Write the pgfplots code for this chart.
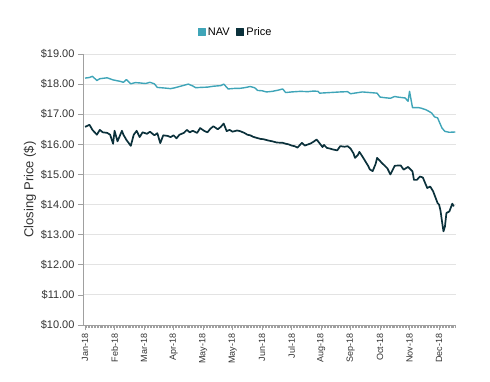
\documentclass[border=0pt]{standalone}
\usepackage{fontspec}
\setmainfont{Liberation Sans}
\usepackage{pgfplots}
\pgfplotsset{compat=1.18}
\definecolor{navc}{HTML}{3FA5B8}
\definecolor{pricec}{HTML}{0B313B}
\definecolor{gridc}{HTML}{E3E3E3}
\definecolor{axc}{HTML}{A0A0A0}
\definecolor{txt}{HTML}{333333}
\begin{document}
\begin{tikzpicture}[x=1pt,y=1pt]
\path[use as bounding box] (0,0) rectangle (490,381);
\begin{axis}[
  at={(83pt,56pt)}, anchor=south west,
  scale only axis, width=373pt, height=271pt,
  xmin=-1.4, xmax=251.5, ymin=10, ymax=19,
  axis lines=left,
  axis line style={draw=axc, line width=0.8pt, -},
  tick align=outside,
  major tick length=5pt, minor tick length=3pt,
  every tick/.style={draw=axc, line width=0.6pt},
  xtick={0,20,...,240},
  minor xtick={0,1,...,251},
  xticklabels={Jan-18,Feb-18,Mar-18,Apr-18,May-18,May-18,Jun-18,Jul-18,Aug-18,Sep-18,Oct-18,Nov-18,Dec-18},
  xticklabel style={rotate=90, anchor=east, font=\fontsize{9}{9}\selectfont, text=txt},
  ytick={10,11,...,19},
  /pgf/number format/assume math mode=true,
  yticklabel={\$\pgfmathprintnumber[fixed,fixed zerofill,precision=2]{\tick}},
  yticklabel style={font=\fontsize{11}{11}\selectfont, text=txt},
  ymajorgrids, grid style={draw=gridc, line width=0.8pt},
  ylabel={Closing Price (\$)},
  ylabel style={at={(axis description cs:-0.142,0.5)}, anchor=center, font=\fontsize{13}{13}\selectfont, text=txt},
  legend style={at={(axis description cs:0.409,1.081)}, anchor=center, draw=none, fill=none,
    legend columns=2, font=\fontsize{11}{13}\selectfont, text=black,
    /tikz/every even column/.append style={column sep=4pt}},
  legend image code/.code={\fill (0pt,-3.5pt) rectangle (7pt,3.5pt);},
]
\addplot[color=navc, line width=1.4pt, line join=round] coordinates {
(0,18.20)(3,18.22)(5,18.26)(8,18.12)(10,18.18)(15,18.21)(19,18.14)(24,18.09)(26,18.06)(28,18.15)
(31,18.01)(34,18.05)(37,18.04)(41,18.02)(44,18.06)(47,18.01)(49,17.89)(54,17.87)(58,17.85)(61,17.88)
(64,17.92)(70,18.00)(73,17.94)(75,17.88)(78,17.89)(83,17.90)(87,17.93)(92,17.95)(94,18.00)(95,17.95)
(97,17.84)(102,17.86)(105,17.86)(108,17.88)(112,17.92)(115,17.88)(117,17.79)(120,17.78)(123,17.74)(127,17.76)
(131,17.80)(134,17.84)(136,17.72)(140,17.74)(146,17.76)(151,17.75)(155,17.77)(158,17.76)(159,17.70)(166,17.72)
(173,17.74)(178,17.75)(180,17.68)(184,17.71)(188,17.74)(193,17.72)(198,17.70)(200,17.57)(203,17.55)(207,17.53)
(210,17.59)(212,17.57)(217,17.54)(219,17.43)(220,17.76)(222,17.22)(226,17.22)(228,17.20)(231,17.15)(233,17.10)
(235,17.04)(237,16.91)(239,16.88)(242,16.54)(244,16.43)(247,16.40)(251,16.41)
};
\addlegendentry{NAV}
\addplot[color=pricec, line width=1.7pt, line join=round] coordinates {
(0,16.58)(3,16.65)(5,16.48)(8,16.32)(10,16.48)(12,16.40)(15,16.38)(17,16.32)(19,16.02)(20,16.45)
(22,16.10)(25,16.45)(26,16.32)(28,16.15)(31,15.95)(33,16.32)(35,16.45)(37,16.24)(39,16.40)(42,16.35)
(44,16.42)(47,16.30)(49,16.37)(51,16.04)(53,16.30)(56,16.28)(58,16.24)(60,16.30)(62,16.20)(64,16.32)
(67,16.38)(69,16.48)(71,16.40)(73,16.45)(76,16.38)(78,16.54)(81,16.44)(83,16.40)(85,16.52)(87,16.60)
(90,16.50)(92,16.58)(94,16.69)(96,16.44)(98,16.48)(100,16.42)(103,16.46)(105,16.44)(108,16.38)(110,16.32)
(112,16.30)(114,16.25)(116,16.22)(119,16.18)(121,16.17)(124,16.13)(127,16.10)(130,16.06)(134,16.05)(136,16.02)
(138,16.00)(140,15.96)(142,15.94)(144,15.89)(147,16.05)(149,15.96)(153,16.03)(155,16.09)(157,16.16)(158,16.10)
(161,15.91)(162,15.98)(164,15.88)(166,15.86)(168,15.83)(171,15.80)(173,15.94)(176,15.92)(178,15.94)(180,15.86)
(182,15.70)(183,15.55)(185,15.65)(186,15.75)(188,15.60)(190,15.44)(192,15.28)(193,15.17)(195,15.11)(197,15.35)
(198,15.55)(200,15.45)(201,15.39)(203,15.30)(205,15.20)(207,15.00)(210,15.29)(214,15.30)(216,15.16)(218,15.22)
(219,15.25)(222,15.10)(223,14.82)(225,14.82)(227,14.93)(229,14.90)(232,14.55)(234,14.60)(236,14.44)(239,14.05)
(240,14.00)(241,13.80)(242,13.44)(243,13.11)(244,13.27)(245,13.72)(247,13.77)(249,14.03)(250,13.94)
};
\addlegendentry{Price}
\end{axis}
\end{tikzpicture}
\end{document}
